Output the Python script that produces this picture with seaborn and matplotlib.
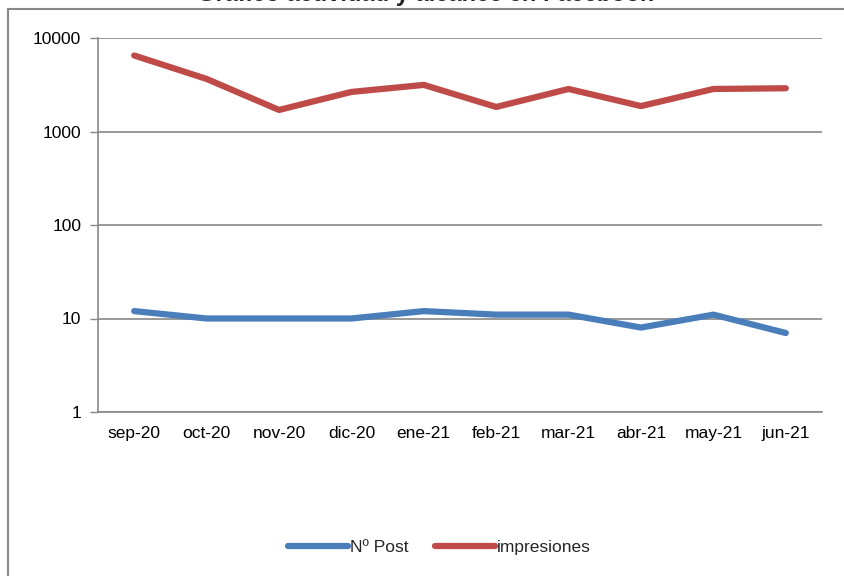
import numpy as np
import pandas as pd
import matplotlib
matplotlib.use('Agg')
import matplotlib.pyplot as plt
import seaborn as sns
from matplotlib.lines import Line2D

# Data
months = ['sep-20', 'oct-20', 'nov-20', 'dic-20', 'ene-21',
          'feb-21', 'mar-21', 'abr-21', 'may-21', 'jun-21']
n_post = [12, 10, 10, 10, 12, 11, 11, 8, 11, 7]
impresiones = [6500, 3650, 1700, 2650, 3150, 1830, 2850, 1870, 2850, 2900]

df = pd.DataFrame({'mes': months, 'Nº Post': n_post, 'impresiones': impresiones})
long_df = df.melt(id_vars='mes', var_name='serie', value_name='valor')
long_df['x'] = long_df['mes'].map({m: i for i, m in enumerate(months)})

sns.set_theme(style='white')
plt.rcParams['font.family'] = ['Liberation Sans', 'DejaVu Sans']

fig = plt.figure(figsize=(8.45, 5.76), dpi=100)
ax = fig.add_axes([98 / 845, 1 - 412 / 576, 724 / 845, 374 / 576])

palette = {'Nº Post': '#4A7EBB', 'impresiones': '#BE4B48'}
sns.lineplot(data=long_df, x='x', y='valor', hue='serie', palette=palette,
             linewidth=4.5, ax=ax, legend=False, solid_capstyle='round')

ax.set_yscale('log')
ax.set_ylim(1, 10000)
ax.set_yticks([1, 10, 100, 1000, 10000])
ax.set_yticklabels(['1', '10', '100', '1000', '10000'])
ax.yaxis.set_minor_locator(matplotlib.ticker.NullLocator())
ax.set_xlim(-0.5, len(months) - 0.5)
ax.set_xticks(range(len(months)))
ax.set_xticklabels(months)
ax.set_xticks(np.arange(-0.5, len(months)), minor=True)
ax.tick_params(axis='x', which='major', length=0, pad=10, labelsize=12.5, colors='#000000')
ax.tick_params(axis='x', which='minor', length=6, width=1, color='#888888', direction='out')
ax.tick_params(axis='y', which='major', length=6, width=1, color='#888888',
               direction='out', labelsize=12.5, pad=6, left=True, labelcolor='#000000')
ax.set_xlabel('')
ax.set_ylabel('')

ax.yaxis.grid(True, color='#888888', linewidth=1.2)
ax.xaxis.grid(False)
for side in ['top', 'right']:
    ax.spines[side].set_visible(False)
for side in ['left', 'bottom']:
    ax.spines[side].set_color('#888888')
    ax.spines[side].set_linewidth(1.2)

# outer chart frame
fig.add_artist(Line2D([8 / 845, 1.01], [1 - 9 / 576, 1 - 9 / 576], color='#888888', lw=1.5,
                      transform=fig.transFigure))
fig.add_artist(Line2D([8 / 845, 8 / 845], [1 - 9 / 576, -0.01], color='#888888', lw=1.5,
                      transform=fig.transFigure))

# title, mostly cropped at top (as in the reference)
fig.text(0.503, 1 - 1 / 576, 'Gráfico actividad y alcance en Facebook',
         ha='center', va='baseline', fontsize=17, fontweight='bold')

handles = [Line2D([], [], color=palette['Nº Post'], lw=4.5, solid_capstyle='round'),
           Line2D([], [], color=palette['impresiones'], lw=4.5, solid_capstyle='round')]
fig.legend(handles, ['Nº Post', 'impresiones'], loc='center', bbox_to_anchor=(0.52, 1 - 547 / 576),
           ncol=2, frameon=False, fontsize=12.5, handlelength=3.5, handletextpad=0.1,
           columnspacing=1.5)

fig.savefig('out.png', dpi=100)
